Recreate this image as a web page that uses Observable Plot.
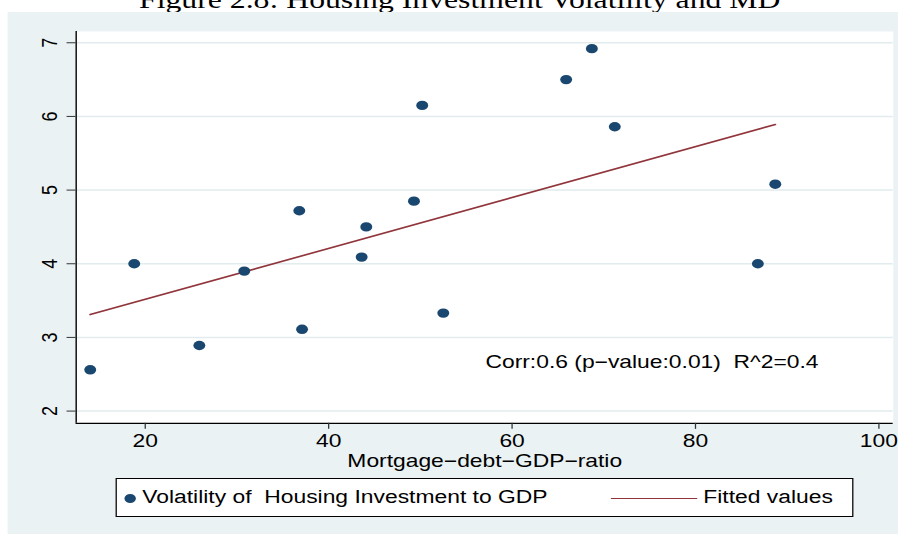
<!DOCTYPE html>
<html>
<head>
<meta charset="utf-8">
<script src="https://cdn.jsdelivr.net/npm/d3@7"></script>
<script src="https://cdn.jsdelivr.net/npm/@observablehq/plot@0.6"></script>
<style>
  html, body { margin: 0; padding: 0; background: #fff; width: 906px; height: 534px; overflow: hidden; }
  #page { position: absolute; left: 0; top: 0; width: 713.4px; height: 534px; transform: scaleX(1.27); transform-origin: 0 0; }
  #title { position: absolute; left: 0; top: 0; width: 713.4px; height: 20px; overflow: visible; z-index: 0; }
  #panel { position: absolute; left: 6.3px; top: 12px; width: 700.8px; height: 522px; background: #eaf2f3; z-index: 1; }
  #chart { position: absolute; left: 0; top: 0; }
  #legend { position: absolute; left: 84.3px; top: 466px; width: 581px; height: 39px; box-sizing: border-box;
            border: 1px solid #000; background: #fff; font-family: "Liberation Sans", Arial, Helvetica, sans-serif; font-size: 18px; color: #000; }
  #legend .dot { position: absolute; left: 6px; top: 14.5px; width: 9.4px; height: 9.4px; border-radius: 50%; background: #1a476f; }
  #legend .lab { position: absolute; top: 0; line-height: 37px; white-space: pre; }
  #legend .ln { position: absolute; left: 389px; top: 18.5px; width: 68.5px; height: 1.5px; background: #90353b; }
</style>
</head>
<body>
<div id="page">
  <svg id="title" xmlns="http://www.w3.org/2000/svg"><text x="362" y="8" text-anchor="middle" font-family="'Liberation Serif', 'DejaVu Serif', serif" font-size="25" fill="#000">Figure 2.8: Housing Investment Volatility and MD</text></svg>
  <div id="panel">
    <div id="chart"></div>
    <div id="legend">
      <span class="dot"></span>
      <span class="lab" style="left:20.4px">Volatility of  Housing Investment to GDP</span>
      <span class="ln"></span>
      <span class="lab" style="left:462.2px">Fitted values</span>
    </div>
  </div>
</div>
<script>
// Data
const mdRatio    = [14.0, 18.8, 25.9, 30.8, 36.8, 37.1, 43.6, 44.1, 49.3, 50.2, 52.5, 65.9, 68.7, 71.2, 86.8, 88.7];
const volatility = [2.56, 4.00, 2.89, 3.90, 4.72, 3.11, 4.09, 4.50, 4.85, 6.15, 3.33, 6.50, 6.92, 5.86, 4.00, 5.08];
const fitX = [14.0, 88.7];
const fitY = [3.31, 5.89];
const xTicks = [20, 40, 60, 80, 100];
const yTicks = [2, 3, 4, 5, 6, 7];
const xDomain = [12.47, 101.57];
const yDomain = [1.833, 7.153];
const xLabel = "Mortgage\u2212debt\u2212GDP\u2212ratio";
const annotText = "Corr:0.6 (p\u2212value:0.01)  R^2=0.4";
const annotX = 57.1;
const annotY = 2.66;

const points = mdRatio.map((x, i) => ({x, y: volatility[i]}));
const fitted = fitX.map((x, i) => ({x, y: fitY[i]}));
const FONT = "'Liberation Sans', Arial, Helvetica, sans-serif";

const chart = Plot.plot({
  width: 701,
  height: 462,
  marginLeft: 53.5,
  marginRight: 3.9,
  marginTop: 19,
  marginBottom: 51,
  x: {domain: xDomain},
  y: {domain: yDomain},
  style: {background: "transparent", fontFamily: FONT, fontSize: "18px", color: "#000", overflow: "visible"},
  marks: [
    Plot.frame({fill: "#fff", stroke: "none"}),
    Plot.gridY({ticks: yTicks, stroke: "#e2ebed", strokeOpacity: 1, strokeWidth: 1.5}),
    Plot.line(fitted, {x: "x", y: "y", stroke: "#90353b", strokeWidth: 1.6}),
    Plot.dot(points, {x: "x", y: "y", r: 4.7, fill: "#1a476f", stroke: "none"}),
    Plot.ruleX([xDomain[0]], {stroke: "#000", strokeWidth: 1.1}),
    Plot.ruleY([yDomain[0]], {stroke: "#000", strokeWidth: 1.2}),
    Plot.axisY({ticks: yTicks, tickSize: 7.1, tickPadding: 0, tickFormat: () => "", label: null, stroke: "#333"}),
    Plot.text(yTicks, {y: d => d, text: d => String(d), frameAnchor: "left", dx: -21.2, rotate: -90,
      textAnchor: "middle", lineAnchor: "middle", fontSize: 18, fill: "#000"}),
    Plot.axisX({ticks: xTicks, tickSize: 6, tickPadding: 5, label: null, fontSize: 18, stroke: "#333", fill: "#000"}),
    Plot.text([xLabel], {text: d => d, frameAnchor: "bottom", dy: 38, lineAnchor: "middle", fontSize: 18, fill: "#000"}),
    Plot.text([annotText], {x: () => annotX, y: () => annotY, text: d => d, textAnchor: "start", lineAnchor: "middle", fontSize: 18, fill: "#000"})
  ]
});
document.getElementById("chart").appendChild(chart);
</script>
</body>
</html>
